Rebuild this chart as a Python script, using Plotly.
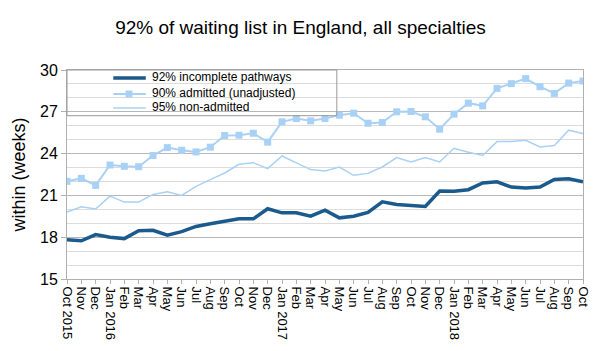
import plotly.graph_objects as go

months = ["Oct 2015", "Nov", "Dec", "Jan 2016", "Feb", "Mar", "Apr", "May", "Jun", "Jul", "Aug", "Sep",
          "Oct", "Nov", "Dec", "Jan 2017", "Feb", "Mar", "Apr", "May", "Jun", "Jul", "Aug", "Sep",
          "Oct", "Nov", "Dec", "Jan 2018", "Feb", "Mar", "Apr", "May", "Jun", "Jul", "Aug", "Sep", "Oct"]

incomplete_92 = [17.81, 17.74, 18.19, 18.0, 17.9, 18.46, 18.5, 18.14, 18.4, 18.77, 18.96, 19.15,
                 19.32, 19.32, 20.04, 19.75, 19.75, 19.51, 19.94, 19.39, 19.51, 19.78, 20.54, 20.35,
                 20.28, 20.21, 21.31, 21.29, 21.41, 21.89, 21.98, 21.6, 21.53, 21.6, 22.15, 22.2, 21.98]

admitted_90 = [22.01, 22.22, 21.72, 23.18, 23.09, 23.06, 23.86, 24.43, 24.24, 24.12, 24.46, 25.3,
               25.32, 25.46, 24.82, 26.28, 26.52, 26.35, 26.52, 26.76, 26.9, 26.18, 26.23, 27.0,
               27.02, 26.64, 25.75, 26.83, 27.62, 27.43, 28.68, 29.02, 29.38, 28.8, 28.32, 29.06, 29.21]

nonadmitted_95 = [19.8, 20.18, 20.02, 20.95, 20.52, 20.52, 21.07, 21.26, 21.0, 21.65, 22.13, 22.61,
                  23.23, 23.35, 22.92, 23.83, 23.33, 22.85, 22.75, 23.04, 22.44, 22.58, 23.04, 23.71,
                  23.4, 23.71, 23.4, 24.38, 24.1, 23.86, 24.86, 24.86, 24.96, 24.48, 24.58, 25.68, 25.44]

series_names = ["92% incomplete pathways", "90% admitted (unadjusted)", "95% non-admitted"]
y_ticks = [15, 18, 21, 24, 27, 30]

x = list(range(len(months)))
FONT = "Liberation Sans, Arial, sans-serif"
DARK = "#1b5a8c"
LIGHT = "#a9d1f5"

# plot area geometry (pixels) for the hand-drawn legend box
L, R, T, B = 67, 591, 70, 279
W, H = R - L, B - T
def px(xp):
    return (xp - L) / W
def py(yp):
    return (B - yp) / H

fig = go.Figure()
fig.add_trace(go.Scatter(x=x, y=incomplete_92, mode="lines", name=series_names[0],
                         line=dict(color=DARK, width=3.5)))
fig.add_trace(go.Scatter(x=x, y=admitted_90, mode="lines+markers", name=series_names[1],
                         line=dict(color=LIGHT, width=2),
                         marker=dict(symbol="square", size=7, color=LIGHT)))
fig.add_trace(go.Scatter(x=x, y=nonadmitted_95, mode="lines", name=series_names[2],
                         line=dict(color=LIGHT, width=1.5)))

legend_rows = [(78, DARK, 3.5, False), (94, LIGHT, 2, True), (108, LIGHT, 1.5, False)]
shapes = [dict(type="rect", xref="paper", yref="paper", x0=0, x1=px(341),
               y0=py(115.7), y1=1, line=dict(color="#999999", width=1),
               fillcolor="rgba(0,0,0,0)", layer="above")]
annotations = []
for (yy, col, w, sq), name in zip(legend_rows, series_names):
    shapes.append(dict(type="line", xref="paper", yref="paper", x0=px(114), x1=px(147),
                       y0=py(yy), y1=py(yy), line=dict(color=col, width=w), layer="above"))
    if sq:
        shapes.append(dict(type="rect", xref="paper", yref="paper", x0=px(126.5), x1=px(133.5),
                           y0=py(yy + 3.5), y1=py(yy - 3.5), line=dict(width=0),
                           fillcolor=col, layer="above"))
    annotations.append(dict(text=name, xref="paper", yref="paper", x=px(151), y=py(yy - 1),
                            xanchor="left", yanchor="middle", showarrow=False,
                            font=dict(size=12, family=FONT, color="#000000")))

fig.update_layout(
    width=601, height=351,
    margin=dict(l=L, r=601 - R, t=T, b=351 - B),
    paper_bgcolor="white", plot_bgcolor="white",
    font=dict(family=FONT, color="#000000"),
    title=dict(text="92% of waiting list in England, all specialties", x=0.5, xanchor="center",
               y=1 - 27 / 351, yanchor="middle", font=dict(size=19, family=FONT)),
    showlegend=False,
    shapes=shapes,
    annotations=annotations,
)

fig.update_xaxes(
    range=[0, len(months) - 1], tickmode="array", tickvals=x, ticktext=months, tickangle=90,
    ticks="outside", ticklen=4, tickcolor="#b0b0b0", showgrid=False, showline=True,
    linecolor="#b0b0b0", linewidth=1, mirror=True, zeroline=False,
    tickfont=dict(size=13, family=FONT),
)
fig.update_yaxes(
    range=[15, 30], tickmode="array", tickvals=y_ticks, ticks="outside", ticklen=5,
    tickcolor="#b0b0b0", showgrid=True, gridcolor="#b8b8b8", gridwidth=1.2,
    minor=dict(dtick=1, showgrid=True, gridcolor="#dcdcdc", gridwidth=1),
    showline=True, linecolor="#b0b0b0", linewidth=1, mirror=True, zeroline=False,
    tickfont=dict(size=16, family=FONT),
    title=dict(text="within (weeks)", font=dict(size=18, family=FONT), standoff=9),
)

fig.write_html("out.html")
